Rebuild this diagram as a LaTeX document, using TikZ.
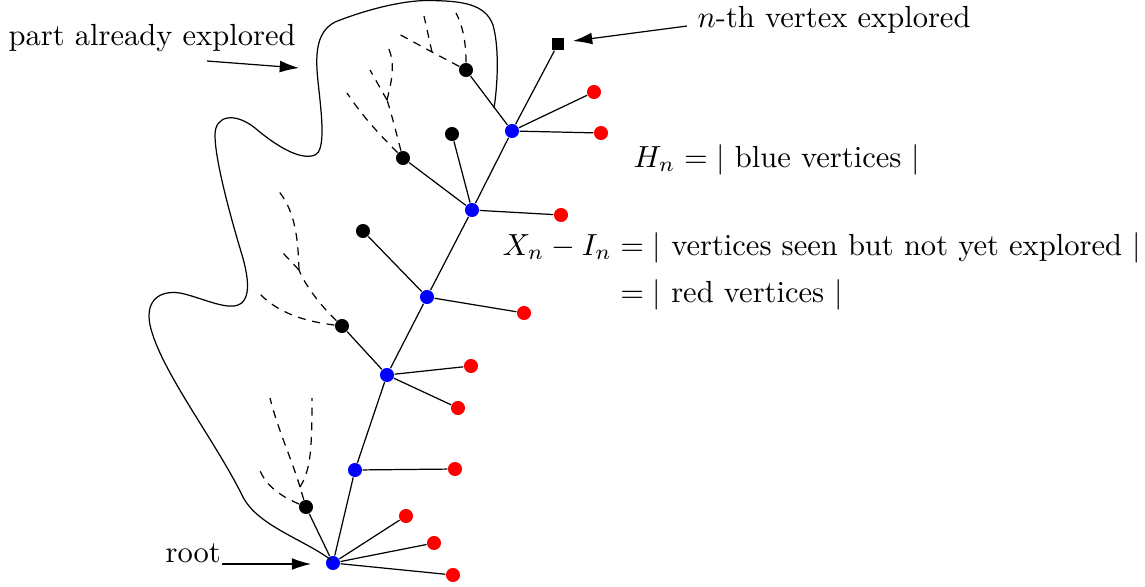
\documentclass[tikz,border=0pt]{standalone}
\usetikzlibrary{arrows.meta}
\begin{document}
\begin{tikzpicture}[x=0.3275pt,y=-0.3275pt,
  vtx/.style={circle,inner sep=0pt,minimum size=4.6pt},
  bluev/.style={vtx,fill=blue},
  redv/.style={vtx,fill=red},
  blackv/.style={vtx,fill=black},
  sqv/.style={rectangle,fill=black,inner sep=0pt,minimum size=4pt},
  edge/.style={line width=0.4pt},
  dsh/.style={line width=0.4pt,dash pattern=on 2.6pt off 2.2pt},
  arr/.style={line width=0.4pt,-{Latex[length=6.3pt,width=3.9pt]}},
  lbl/.style={inner sep=0pt,anchor=base west}]
\useasboundingbox (0,0) rectangle (1145,586);

% blue spine
\node[bluev] (B0) at (333,563) {};
\node[bluev] (B1) at (355,470) {};
\node[bluev] (B2) at (387,375) {};
\node[bluev] (B3) at (427,297) {};
\node[bluev] (B4) at (472,210) {};
\node[bluev] (B5) at (512,131) {};
\node[sqv]   (S)  at (558,44) {};

% red vertices
\node[redv] (r1) at (406,516) {};
\node[redv] (r2) at (434,543) {};
\node[redv] (r3) at (453,575) {};
\node[redv] (r4) at (455,469) {};
\node[redv] (r5) at (471,366) {};
\node[redv] (r6) at (458,408) {};
\node[redv] (r7) at (524,313) {};
\node[redv] (r8) at (561,215) {};
\node[redv] (r9) at (594,92) {};
\node[redv] (r10) at (601,133) {};

% black vertices
\node[blackv] (k1) at (306,507) {};
\node[blackv] (k2) at (342,326) {};
\node[blackv] (k3) at (363,231) {};
\node[blackv] (k4) at (452,134) {};
\node[blackv] (k5) at (403,158) {};
\node[blackv] (k6) at (466,70) {};

% tree edges
\draw[edge] (B0) -- (B1) -- (B2) -- (B3) -- (B4) -- (B5) -- (S);
\draw[edge] (B0) -- (r1);
\draw[edge] (B0) -- (r2);
\draw[edge] (B0) -- (r3);
\draw[edge] (B0) -- (k1);
\draw[edge] (B1) -- (r4);
\draw[edge] (B2) -- (r5);
\draw[edge] (B2) -- (r6);
\draw[edge] (B2) -- (k2);
\draw[edge] (B3) -- (r7);
\draw[edge] (B3) -- (k3);
\draw[edge] (B4) -- (r8);
\draw[edge] (B4) -- (k4);
\draw[edge] (B4) -- (k5);
\draw[edge] (B5) -- (r9);
\draw[edge] (B5) -- (r10);
\draw[edge] (B5) -- (k6);

% dashed explored subtrees
\coordinate (j1) at (300,487);
\draw[dsh] (k1) .. controls (285,498) and (266,488) .. (259,468);
\draw[dsh] (k1) -- (j1);
\draw[dsh] (j1) .. controls (292,460) and (278,430) .. (270,398);
\draw[dsh] (j1) .. controls (310,470) and (312,455) .. (312,398);

\coordinate (j2) at (299,270);
\draw[dsh] (k2) .. controls (310,322) and (280,315) .. (260,294);
\draw[dsh] (k2) .. controls (320,305) and (305,285) .. (j2);
\draw[dsh] (j2) .. controls (298,240) and (296,210) .. (276,188);
\draw[dsh] (j2) -- (283,253);

\coordinate (j5) at (387,100);
\draw[dsh] (k5) .. controls (385,140) and (365,120) .. (347,93);
\draw[dsh] (k5) .. controls (398,140) and (392,115) .. (j5);
\draw[dsh] (j5) .. controls (392,80) and (396,62) .. (387,45);
\draw[dsh] (j5) -- (370,70);

\coordinate (j6) at (432,52);
\draw[dsh] (k6) .. controls (466,50) and (465,30) .. (456,13);
\draw[dsh] (k6) -- (j6) -- (397,33);
\draw[dsh] (j6) -- (424,16);

% outline of explored part
\draw[edge] (331,560)
  .. controls (305,540) and (258,526) .. (243,497)
  .. controls (215,440) and (160,370) .. (150,325)
  .. controls (145,300) and (160,290) .. (180,293)
  .. controls (200,297) and (225,310) .. (238,305)
  .. controls (252,300) and (248,275) .. (242,255)
  .. controls (230,215) and (215,160) .. (215,135)
  .. controls (215,115) and (235,112) .. (255,128)
  .. controls (275,145) and (300,161) .. (315,155)
  .. controls (325,151) and (322,120) .. (320,100)
  .. controls (317,70) and (310,35) .. (335,22)
  .. controls (360,12) and (400,0) .. (430,0.5)
  .. controls (460,1) and (485,3) .. (493,25)
  .. controls (500,50) and (497,90) .. (494,108);

% labels and arrows
\node[lbl] (tpart) at (8,45) {part already explored};
\coordinate (apart0) at (207,61);
\coordinate (apart1) at (299,68);
\draw[arr] (apart0) -- (apart1);

\node[lbl] (troot) at (165,562) {root};
\coordinate (aroot0) at (222,564);
\coordinate (aroot1) at (311,564);
\draw[arr] (aroot0) -- (aroot1);

\node[lbl] (tnth) at (697,27) {$n$-th vertex explored};
\coordinate (anth0) at (687,26);
\coordinate (anth1) at (573,41);
\draw[arr] (anth0) -- (anth1);

\node[lbl] (tH) at (633,167) {$H_n = |$ blue vertices $|$};

\node[lbl] (tX) at (502,255) {\begin{tabular}[t]{@{}r@{}l@{}}
 $X_n - I_n$ & ${}= |$ vertices seen but not yet explored $|$\\[3.7pt]
 & ${}= |$ red vertices $|$
\end{tabular}};
\end{tikzpicture}
\end{document}
